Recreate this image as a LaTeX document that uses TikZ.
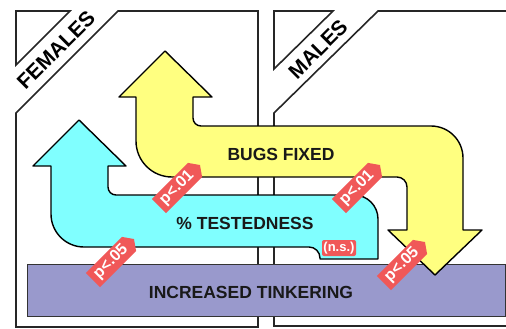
\documentclass[tikz,border=0pt]{standalone}
\usepackage{fontspec}
\setmainfont{Liberation Sans}
\usetikzlibrary{shapes.symbols}
\definecolor{yel}{RGB}{255,255,128}
\definecolor{cya}{RGB}{128,255,255}
\definecolor{pur}{RGB}{153,153,204}
\definecolor{tagred}{RGB}{240,88,88}
\begin{document}
\begin{tikzpicture}[x=1pt,y=-1pt,
  panel/.style={draw=black!85, line width=1.6pt, fill=white, line join=miter},
  flow/.style={draw=black, line width=1.4pt, line join=round},
  lbl/.style={font=\bfseries\fontsize{17.5}{17.5}\selectfont, text=black!90},
  head/.style={font=\bfseries\fontsize{21}{21}\selectfont, rotate=45},
  ptag/.style={signal, signal to=east, signal pointer angle=110, fill=tagred,
    text=white, font=\bfseries\fontsize{16}{16}\selectfont, inner xsep=2pt,
    inner ysep=1pt, minimum width=58pt, minimum height=20pt, rotate=45}]
\useasboundingbox (0,0) rectangle (506,329);
% panels
\draw[panel] (118,11) -- (258,11) -- (258,327) -- (16,327) -- (16,113) -- cycle;
\draw[panel] (16,11) -- (70,11) -- (16,65) -- cycle;
\draw[panel] (512,11) -- (378,11) -- (274,113) -- (274,326) -- (512,326);
\draw[panel] (274,11) -- (333,11) -- (274,69) -- cycle;
\node[head] (fem) at (56,50) {FEMALES};
\node[head] (mal) at (318,49) {MALES};
% tinkering bar
\draw[draw=black!80, line width=0.8pt, fill=pur] (27,264) rectangle (505,316);
\node[lbl] (tink) at (251,292) {INCREASED TINKERING};
% cyan arrow
\draw[flow, fill=cya] (79,120) -- (126,166) -- (108,166)
  [rounded corners=8pt] -- (108,195)
  [rounded corners=24pt] -- (378,195)
  [sharp corners] -- (378,259) -- (320,259)
  [rounded corners=11pt] -- (320,247)
  [rounded corners=33pt] -- (51,247)
  [sharp corners] -- (51,166) -- (33,166) -- cycle;
\node[lbl] (test) at (245,223) {\% TESTEDNESS};
% yellow arrow
\draw[flow, fill=yel] (165,51) -- (212,97) -- (193,97)
  [rounded corners=8pt] -- (193,126)
  [rounded corners=32pt] -- (463,126)
  [sharp corners] -- (463,230) -- (482,230) -- (435,275) -- (388,230) -- (407,230)
  [rounded corners=10pt] -- (407,177)
  [rounded corners=36pt] -- (136,177)
  [sharp corners] -- (136,97) -- (119,97) -- cycle;
\node[lbl] (bugs) at (281,154) {BUGS FIXED};
% significance tags
\node[ptag] (t1) at (177,188) {p<.01};
\node[ptag] (t2) at (357,188) {p<.01};
\node[ptag] (t3) at (111,262) {p<.05};
\node[ptag] (t4) at (402,265) {p<.05};
\node[fill=tagred, text=white, rounded corners=2pt, inner sep=1pt,
  font=\bfseries\fontsize{13}{13}\selectfont, minimum width=34pt,
  minimum height=16pt] (ns) at (339,248) {(n.s.)};
\end{tikzpicture}
\end{document}
